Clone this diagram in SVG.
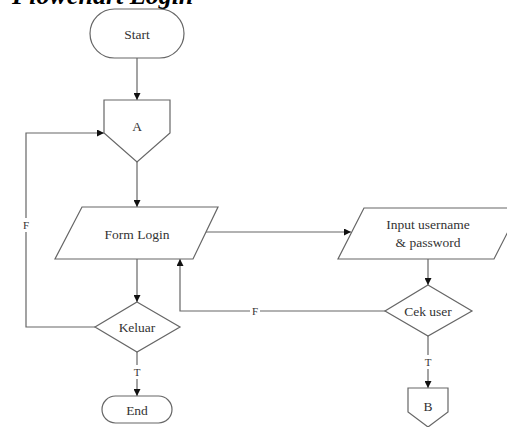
<svg xmlns="http://www.w3.org/2000/svg" width="507" height="427" viewBox="0 0 507 427">
<defs>
<marker id="arr" viewBox="0 0 10 10" refX="10" refY="5" markerWidth="7" markerHeight="7" markerUnits="userSpaceOnUse" orient="auto">
<path d="M0,0 L10,5 L0,10 z" fill="#111"/>
</marker>
<style>
.shape{fill:#fff;stroke:#666;stroke-width:1.2}
.lbl{font-family:"Liberation Serif","Times New Roman",serif;font-size:13.5px;fill:#333;text-anchor:middle;dominant-baseline:central}
.edge{fill:none;stroke:#666;stroke-width:1.2}
.el{font-family:"Liberation Serif","Times New Roman",serif;font-size:11px;fill:#333;text-anchor:middle;dominant-baseline:central}
.bg{fill:#fff}
</style>
</defs>
<rect width="507" height="427" fill="#fff"/>
<text x="12" y="4" font-family="Liberation Serif, Times New Roman, serif" font-size="26" font-weight="bold" font-style="italic" fill="#000">Flowchart Login</text>
<g id="connectors">
<path class="edge" d="M137,58 L137,100" marker-end="url(#arr)"/>
<path class="edge" d="M137,162 L137,207" marker-end="url(#arr)"/>
<path class="edge" d="M137,259 L137,302" marker-end="url(#arr)"/>
<path class="edge" d="M95,327 L26,327 L26,133 L104,133" marker-end="url(#arr)"/>
<rect class="bg" x="21" y="218" width="10" height="14"/>
<text class="el" x="26" y="225">F</text>
<path class="edge" d="M137,352 L137,396" marker-end="url(#arr)"/>
<rect class="bg" x="132" y="365" width="10" height="14"/>
<text class="el" x="137" y="372">T</text>
<path class="edge" d="M205,232 L351,232" marker-end="url(#arr)"/>
<path class="edge" d="M428,259 L428,285" marker-end="url(#arr)"/>
<path class="edge" d="M386,311 L180,311 L180,259" marker-end="url(#arr)"/>
<rect class="bg" x="250" y="304" width="10" height="14"/>
<text class="el" x="255" y="311">F</text>
<path class="edge" d="M428,336 L428,388" marker-end="url(#arr)"/>
<rect class="bg" x="423" y="355" width="10" height="14"/>
<text class="el" x="428" y="362">T</text>
</g>
<g id="start">
<rect class="shape" x="90" y="9" width="94" height="49" rx="24.5"/>
<text class="lbl" x="137" y="34">Start</text>
</g>
<g id="connA">
<path class="shape" d="M104,100 L170,100 L170,133 L137,162 L104,133 Z"/>
<text class="lbl" x="137" y="126">A</text>
</g>
<g id="formLogin">
<path class="shape" d="M82,207 L218,207 L193,259 L55,259 Z"/>
<text class="lbl" x="137" y="234">Form Login</text>
</g>
<g id="keluar">
<path class="shape" d="M137,302 L180,327 L137,352 L95,327 Z"/>
<text class="lbl" x="137" y="327">Keluar</text>
</g>
<g id="end">
<rect class="shape" x="102" y="396" width="70" height="27" rx="13.5"/>
<text class="lbl" x="137" y="410">End</text>
</g>
<g id="input">
<path class="shape" d="M364,208 L520,208 L494,259 L338,259 Z"/>
<text class="lbl" x="428" y="224">Input username</text>
<text class="lbl" x="428" y="242">&amp; password</text>
</g>
<g id="cekUser">
<path class="shape" d="M428,285 L472,311 L428,336 L385,311 Z"/>
<text class="lbl" x="428" y="311">Cek user</text>
</g>
<g id="connB">
<path class="shape" d="M408,388 L448,388 L448,412 L428,427 L408,412 Z"/>
<text class="lbl" x="428" y="406">B</text>
</g>
</svg>
